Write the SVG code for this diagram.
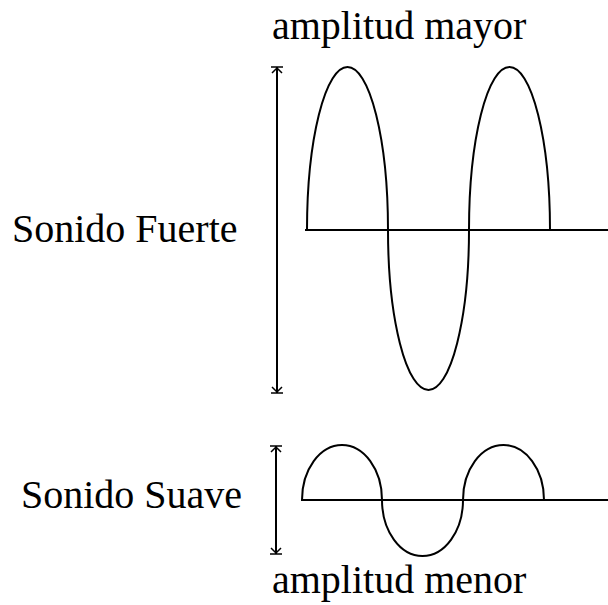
<svg xmlns="http://www.w3.org/2000/svg" width="608" height="605" viewBox="0 0 608 605">
<style>
.ln{fill:none;stroke:#000;stroke-width:2}
.ar{fill:none;stroke:#000;stroke-width:1.5}
.t{font-family:"Liberation Serif","Times New Roman",serif;font-size:40px;fill:#000}
</style>
<rect width="608" height="605" fill="#fff"/>
<g id="loud">
<path class="ln" d="M305,230H608"/>
<path class="ln" d="M307,230A40.5,163 0 0 1 388,230A40.5,160 0 0 0 469,230A40.5,163 0 0 1 550,230"/>
<path class="ln" d="M277,68V392"/>
<path class="ar" d="M271,67H283M272,73L277,68L282,73M271,393H283M272,387L277,392L282,387"/>
</g>
<g id="soft">
<path class="ln" d="M301,500H608"/>
<path class="ln" d="M302,500A40,55 0 0 1 382,500A40.5,56 0 0 0 463,500A40.5,55 0 0 1 544,500"/>
<path class="ln" d="M276,447V553"/>
<path class="ar" d="M270,446H282M271,452L276,447L281,452M270,554H282M271,548L276,553L281,548"/>
</g>
<text class="t" x="272" y="39">amplitud mayor</text>
<text class="t" x="12" y="242">Sonido Fuerte</text>
<text class="t" x="21" y="508">Sonido Suave</text>
<text class="t" x="272" y="593">amplitud menor</text>
</svg>
